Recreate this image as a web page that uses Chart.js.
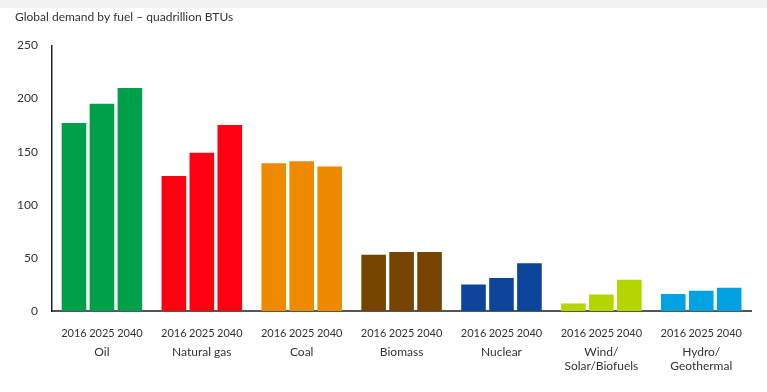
<!DOCTYPE html>
<html>
<head>
<meta charset="utf-8">
<script src="https://cdn.jsdelivr.net/npm/chart.js@4"></script>
<style>
    html, body { margin: 0; padding: 0; }
    body { width: 767px; height: 392px; background: linear-gradient(#f1f2f6 0 8px, #fff 8px); }
    #wrap { position: relative; width: 767px; height: 392px; }
</style>
</head>
<body>
<div id="wrap"><canvas id="fuelChart"></canvas></div>
<script>
const fuels = ['Oil', 'Natural gas', 'Coal', 'Biomass', 'Nuclear', ['Wind/', 'Solar/Biofuels'], ['Hydro/', 'Geothermal']];
const years = ['2016', '2025', '2040'];
const demand2016 = [177, 127, 139, 53, 25, 7, 16];
const demand2025 = [195, 149, 141, 55.5, 31, 15.5, 19];
const demand2040 = [210, 175, 136, 55.5, 45, 29.5, 22];
const fuelColors = ['#00a04a', '#ff0010', '#ee8a00', '#774400', '#0c4599', '#b5d400', '#00a3e0'];
const yTicks = [0, 50, 100, 150, 200, 250];

const textColor = '#333';

// draws the year under each bar, using the bar positions from the chart
const yearLabels = {
    id: 'yearLabels',
    afterDatasetsDraw(chart){
        let ctx = chart.ctx;
        let bottom = chart.chartArea.bottom;
        ctx.save();
        ctx.font = '11px Lato';
        ctx.fillStyle = textColor;
        ctx.textAlign = 'center';
        ctx.textBaseline = 'middle';
        chart.data.datasets.forEach(function(ds, i){
            let meta = chart.getDatasetMeta(i);
            meta.data.forEach(function(bar){
                ctx.fillText(ds.label, bar.x, bottom + 22);
            });
        });
        ctx.restore();
    }
};

let ctx = document.getElementById('fuelChart').getContext('2d');
let fuelChart = new Chart(ctx, {
    type: 'bar',
    data: {
        labels: fuels,
        datasets: [
            { label: years[0], data: demand2016, backgroundColor: fuelColors },
            { label: years[1], data: demand2025, backgroundColor: fuelColors },
            { label: years[2], data: demand2040, backgroundColor: fuelColors }
        ]
    },
    options: {
        responsive: true,
        maintainAspectRatio: false,
        animation: false,
        categoryPercentage: 0.84,
        barPercentage: 0.88,
        layout: { padding: { left: 15, right: 10, top: 0, bottom: 0 } },
        plugins: {
            legend: { display: false },
            tooltip: { enabled: false },
            title: {
                display: true,
                text: 'Global demand by fuel – quadrillion BTUs',
                align: 'start',
                color: textColor,
                font: { family: 'Lato', size: 12, weight: 'normal' },
                padding: { top: 10, bottom: 21 }
            }
        },
        scales: {
            x: {
                grid: { display: false, drawTicks: false },
                border: { display: true, color: '#555', width: 2 },
                ticks: {
                    color: textColor,
                    font: { family: 'Lato', size: 12 },
                    padding: 34,
                    maxRotation: 0,
                    autoSkip: false
                },
                afterFit(scale){ scale.height = 81; }
            },
            y: {
                min: 0,
                max: 250,
                grid: { display: false, drawTicks: false },
                border: { display: true, color: '#222', width: 1.5 },
                afterBuildTicks(scale){ scale.ticks = yTicks.map(v => ({ value: v })); },
                ticks: {
                    color: textColor,
                    font: { family: 'Lato', size: 12 },
                    padding: 14
                },
                afterFit(scale){ scale.width = 37; }
            }
        }
    },
    plugins: [yearLabels]
});
</script>
</body>
</html>
